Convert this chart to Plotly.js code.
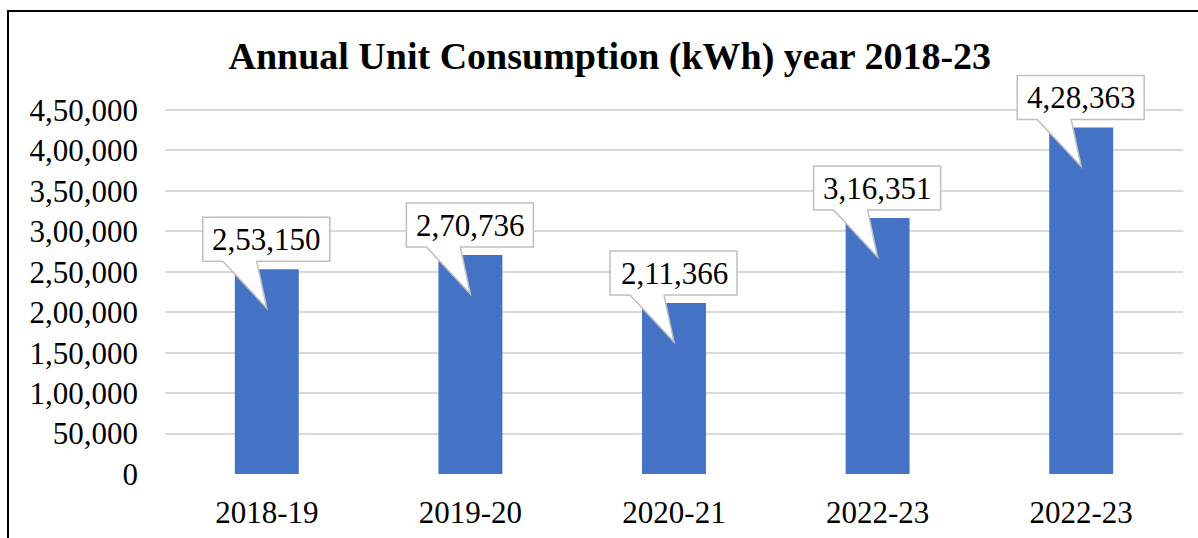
<!DOCTYPE html>
<html>
<head>
<meta charset="utf-8">
<script src="https://cdn.plot.ly/plotly-3.0.1.min.js"></script>
<style>
  html, body { margin: 0; padding: 0; background: #fff; }
  #wrap { position: relative; width: 1198px; height: 538px; overflow: hidden; }
  #chart { width: 1198px; height: 538px; }
  #frame { position: absolute; left: 7px; top: 10px; width: 1300px; height: 600px;
           border-left: 2px solid #000; border-top: 2px solid #000; pointer-events: none; }
</style>
</head>
<body>
<div id="wrap">
  <div id="chart"></div>
  <div id="frame"></div>
</div>
<script>
// ---- data ----
const categories = ["2018-19", "2019-20", "2020-21", "2022-23", "2022-23"];
const consumption = [253150, 270736, 211366, 316351, 428363];
const valueLabels = ["2,53,150", "2,70,736", "2,11,366", "3,16,351", "4,28,363"];
const yTickValues = [0, 50000, 100000, 150000, 200000, 250000, 300000, 350000, 400000, 450000];
const yTickLabels = ["0", "50,000", "1,00,000", "1,50,000", "2,00,000", "2,50,000", "3,00,000", "3,50,000", "4,00,000", "4,50,000"];

const positions = categories.map((c, i) => i);
const FONT = "Liberation Serif";

// geometry: axis 0..450000 spans 364 px; plot area extended upward so callouts are not clipped
const TOP_MARGIN = 40, BOTTOM_MARGIN = 64, H = 538;
const plotH = H - TOP_MARGIN - BOTTOM_MARGIN;
const yMaxTick = yTickValues[yTickValues.length - 1];
const yTop = yMaxTick * plotH / 364;

// callout outline (pixels relative to the bar top, y up)
function calloutPath() {
  const L = -64, R = 63, T = 52, B = 8, w1 = -44, w2 = -10, tip = -39;
  return `M ${L} ${T} L ${R} ${T} L ${R} ${B} L ${w2} ${B} L 0 ${tip} L ${w1} ${B} L ${L} ${B} Z`;
}

const shapes = positions.map((p, i) => ({
  type: "path",
  xref: "x", yref: "y",
  xsizemode: "pixel", ysizemode: "pixel",
  xanchor: p, yanchor: consumption[i],
  path: calloutPath(),
  fillcolor: "#ffffff",
  line: { color: "#bfbfbf", width: 1.5 },
  layer: "above"
}));

const annotations = positions.map((p, i) => ({
  x: p, y: consumption[i], xref: "x", yref: "y",
  text: valueLabels[i], showarrow: false,
  xshift: 0, yshift: 30,
  font: { family: FONT, size: 31, color: "#000" }
}));

const trace = {
  type: "bar",
  x: positions,
  y: consumption,
  width: 0.314,
  marker: { color: "#4472c4" },
  hoverinfo: "skip"
};

const layout = {
  width: 1198, height: H,
  margin: { l: 165, r: 15, t: TOP_MARGIN, b: BOTTOM_MARGIN },
  paper_bgcolor: "#fff", plot_bgcolor: "#fff",
  showlegend: false,
  font: { family: FONT },
  title: {
    text: "<b>Annual Unit Consumption (kWh) year 2018-23</b>",
    xref: "container", x: 0.509, xanchor: "center",
    yref: "container", y: 1 - 56 / 538, yanchor: "middle",
    font: { family: FONT, size: 38, color: "#000" }
  },
  xaxis: {
    range: [-0.5, 4.5],
    tickmode: "array", tickvals: positions, ticktext: categories,
    showgrid: false, zeroline: false, showline: false, ticks: "",
    ticklabelstandoff: 17,
    tickfont: { family: FONT, size: 31, color: "#000" }
  },
  yaxis: {
    range: [0, yTop],
    tickmode: "array", tickvals: yTickValues, ticktext: yTickLabels,
    showgrid: true, gridcolor: "#d9d9d9", gridwidth: 2,
    zeroline: false, showline: false, ticks: "",
    ticklabelstandoff: 26,
    tickfont: { family: FONT, size: 31, color: "#000" }
  },
  shapes: shapes,
  annotations: annotations
};

Plotly.newPlot("chart", [trace], layout, { displayModeBar: false, staticPlot: true });
</script>
</body>
</html>
